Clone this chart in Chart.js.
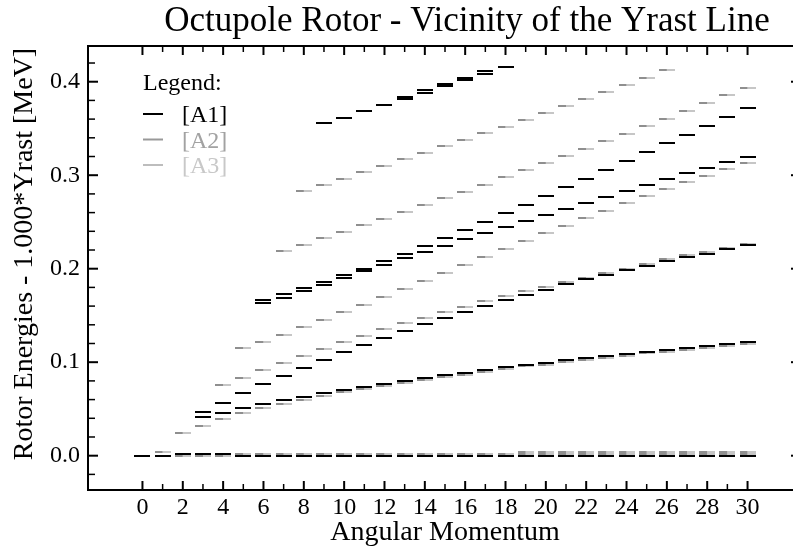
<!DOCTYPE html>
<html>
<head>
<meta charset="utf-8">
<script src="https://cdn.jsdelivr.net/npm/chart.js@4.4.1/dist/chart.umd.min.js"></script>
<style>
html,body{margin:0;padding:0;background:#ffffff;overflow:hidden;}
#wrap{width:793px;height:552px;position:relative;overflow:hidden;}
</style>
</head>
<body>
<div id="wrap"><canvas id="c" width="802" height="552"></canvas></div>
<script>
// ---------- data ----------
const chartTitle = 'Octupole Rotor - Vicinity of the Yrast Line';
const xTitle = 'Angular Momentum';
const yTitle = 'Rotor Energies - 1.000*Yrast [MeV]';
const seriesNames = ['[A1]', '[A2]', '[A3]'];

const xTickValues = [0, 2, 4, 6, 8, 10, 12, 14, 16, 18, 20, 22, 24, 26, 28, 30];
const xTickLabels = ['0', '2', '4', '6', '8', '10', '12', '14', '16', '18', '20', '22', '24', '26', '28', '30'];
const xMinorTicks = [1, 3, 5, 7, 9, 11, 13, 15, 17, 19, 21, 23, 25, 27, 29];
const yTickValues = [0.0, 0.1, 0.2, 0.3, 0.4];
const yTickLabels = ['0.0', '0.1', '0.2', '0.3', '0.4'];
const yMinorTicks = [-0.02, 0.02, 0.04, 0.06, 0.08, 0.12, 0.14, 0.16, 0.18, 0.22, 0.24, 0.26, 0.28, 0.32, 0.34, 0.36, 0.38, 0.42];

// angular momentum of the first state of each band
const a1YrastStart = 0;
const a1YrastValues = [0, 0, 0.002, 0.002, 0.002, 0, 0, 0, 0, 0, 0, 0, 0, 0, 0, 0, 0, 0, 0, 0, 0, 0, 0, 0, 0, 0, 0, 0, 0, 0, 0];
const a1TopStart = 9;
const a1TopValues = [0.3555, 0.3615, 0.3683, 0.3747, 0.3815, 0.3882, 0.3951, 0.4018, 0.4086, 0.416];
const a1TopPartnerStart = 13;
const a1TopPartnerValues = [0.3836, 0.3908, 0.3975, 0.4043, 0.4114];
const a1UpperStart = 6;
const a1UpperValues = [0.166, 0.1726, 0.179, 0.186, 0.193, 0.2, 0.2082, 0.2157, 0.2246, 0.2328, 0.2411, 0.25, 0.2593, 0.2684, 0.2778, 0.2871, 0.2963, 0.3056, 0.3152, 0.3245, 0.3341, 0.3433, 0.3529, 0.3622, 0.3719];
const a1UpperPartnerStart = 6;
const a1UpperPartnerValues = [0.163, 0.1687, 0.176, 0.183, 0.190, 0.1972, 0.2043, 0.2111, 0.2179, 0.2246, 0.2314, 0.2382, 0.2446, 0.2513, 0.2578, 0.2642, 0.2706, 0.277, 0.2831, 0.2895, 0.2959, 0.302, 0.308, 0.3138, 0.3198];
const a1MiddleStart = 3;
const a1MiddleValues = [0.0467, 0.0567, 0.0667, 0.0763, 0.0856, 0.0941, 0.1027, 0.1106, 0.1184, 0.1262, 0.1334, 0.1405, 0.1473, 0.154, 0.1601, 0.1662, 0.1722, 0.1775, 0.1833, 0.1886, 0.1936, 0.1983, 0.2032, 0.2082, 0.2125, 0.2161, 0.2207, 0.225];
const a1LowerStart = 3;
const a1LowerValues = [0.0414, 0.0457, 0.051, 0.0553, 0.0596, 0.0631, 0.0667, 0.0703, 0.0738, 0.077, 0.0799, 0.0834, 0.0863, 0.0888, 0.0917, 0.0945, 0.097, 0.0991, 0.1023, 0.1042, 0.1066, 0.1088, 0.1109, 0.113, 0.1152, 0.1173, 0.1191, 0.1213];

// A2 and A3 coincide (drawn as the two halves of each grey dash)
const a23Band1Start = 8;
const a23Band1Values = [0.2834, 0.2895, 0.2963, 0.3031, 0.3098, 0.317, 0.3241, 0.3309, 0.338, 0.3451, 0.3519, 0.3594, 0.3668, 0.374, 0.3815, 0.389, 0.3968, 0.4043, 0.4122];
const a23Band2Start = 7;
const a23Band2Values = [0.2193, 0.2253, 0.2325, 0.2393, 0.2467, 0.2535, 0.2606, 0.2681, 0.2753, 0.2824, 0.2898, 0.2978, 0.3052, 0.313, 0.3205, 0.3283, 0.3366, 0.3444, 0.3526, 0.3604, 0.3687, 0.3772, 0.3855, 0.3936];
const a23Band3Start = 5;
const a23Band3Values = [0.1152, 0.122, 0.1294, 0.1373, 0.1451, 0.1534, 0.1612, 0.1694, 0.178, 0.1865, 0.1951, 0.2036, 0.2122, 0.2207, 0.2293, 0.2379, 0.246, 0.2542, 0.262, 0.27, 0.2778, 0.2849, 0.2924, 0.2995, 0.3066, 0.3127];
const a23Band4Start = 4;
const a23Band4Values = [0.0753, 0.0831, 0.0913, 0.0991, 0.1066, 0.1144, 0.1216, 0.1284, 0.1352, 0.1416, 0.1476, 0.1537, 0.1594, 0.1651, 0.1705, 0.1758, 0.1804, 0.1854, 0.1904, 0.1954, 0.2, 0.205, 0.21, 0.2146, 0.2179, 0.2225, 0.2268];
const a23Band5Start = 2;
const a23Band5Values = [0.0243, 0.0318, 0.0392, 0.0453, 0.0507, 0.0556, 0.0599, 0.0642, 0.068, 0.0713, 0.0749, 0.0781, 0.081, 0.0845, 0.0866, 0.0898, 0.0924, 0.0959, 0.0973, 0.1002, 0.1023, 0.1048, 0.107, 0.1095, 0.1112, 0.1134, 0.1155, 0.1177, 0.1198];
const a23LowStart = 1;
const a23LowValues = [0.0043, 0, 0, 0, 0.0021, 0.0021, 0.0021, 0.0021, 0.0021, 0.0021, 0.0021, 0.0021, 0.0021, 0.0021, 0.0021, 0.0021, 0.0021, 0.0021, 0.0021, 0.0021, 0.0021, 0.0021, 0.0021, 0.0021, 0.0021, 0.0021, 0.0021, 0.0021, 0.0021, 0.0021];
const a23LowPartnerStart = 19;
const a23LowPartnerValues = [0.0043, 0.0043, 0.0043, 0.0043, 0.0043, 0.0043, 0.0043, 0.0043, 0.0043, 0.0043, 0.0043, 0.0043];

// ---------- styling ----------
const FONT = "'Liberation Serif', 'Times New Roman', serif";
const COL_A1 = '#000000';
const COL_A2 = '#8f8f8f';
const COL_A3 = '#c6c6c6';
const TXT_A2 = '#a2a2a2';
const TXT_A3 = '#c8c8c8';
const X_MIN = -2.7, X_MAX = 32.7;
const Y_MIN = -0.0367, Y_MAX = 0.4382;

function dashImage(color, part) {
  const c = document.createElement('canvas');
  c.width = 16; c.height = 2;
  const g = c.getContext('2d');
  g.fillStyle = color;
  if (part === 'left') g.fillRect(0, 0, 8, 2);
  else if (part === 'right') g.fillRect(8, 0, 8, 2);
  else g.fillRect(0, 0, 16, 2);
  return c;
}
const dashA1 = dashImage(COL_A1, 'full');
const dashA2 = dashImage(COL_A2, 'left');
const dashA3 = dashImage(COL_A3, 'right');

function band(start, values) {
  return values.map((v, i) => ({ x: start + i, y: v }));
}
function ds(label, start, values, img) {
  return {
    label: label, data: band(start, values), showLine: false,
    pointStyle: img, pointRadius: 8, pointHoverRadius: 8, pointBorderWidth: 0,
    borderColor: 'transparent', backgroundColor: 'transparent'
  };
}

const a23Bands = [
  [a23Band1Start, a23Band1Values], [a23Band2Start, a23Band2Values], [a23Band3Start, a23Band3Values],
  [a23Band4Start, a23Band4Values], [a23Band5Start, a23Band5Values], [a23LowStart, a23LowValues],
  [a23LowPartnerStart, a23LowPartnerValues]
];
const a1Bands = [
  [a1YrastStart, a1YrastValues], [a1TopStart, a1TopValues], [a1TopPartnerStart, a1TopPartnerValues],
  [a1UpperStart, a1UpperValues], [a1UpperPartnerStart, a1UpperPartnerValues],
  [a1MiddleStart, a1MiddleValues], [a1LowerStart, a1LowerValues]
];

const datasets = [];
a1Bands.forEach(b => datasets.push(ds(seriesNames[0], b[0], b[1], dashA1)));
a23Bands.forEach(b => datasets.push(ds(seriesNames[1], b[0], b[1], dashA2)));
a23Bands.forEach(b => datasets.push(ds(seriesNames[2], b[0], b[1], dashA3)));

// place the chart title and the y-axis title as in the reference figure
const placementPlugin = {
  id: 'placement',
  afterLayout(chart) {
    const t = chart.titleBlock;
    if (t) { t.left = 141; t.right = 793; }
    const y = chart.scales.y;
    y.top = 46 - 28; // y-axis title centred slightly above the plot centre
  }
};

const framePlugin = {
  id: 'frame',
  afterDatasetsDraw(chart) {
    const { ctx, chartArea: a, scales: { x, y } } = chart;
    ctx.save();
    ctx.strokeStyle = '#000';
    ctx.lineWidth = 2;
    ctx.beginPath();
    ctx.moveTo(a.left, a.top); ctx.lineTo(a.right, a.top);
    ctx.moveTo(a.left, a.top - 1); ctx.lineTo(a.left, a.bottom + 1);
    ctx.moveTo(a.left, a.bottom); ctx.lineTo(a.right, a.bottom);
    ctx.moveTo(a.right, a.top - 1); ctx.lineTo(a.right, a.bottom + 1);
    ctx.stroke();
    const tick = (px, py, dx, dy, w) => {
      ctx.lineWidth = w; ctx.beginPath(); ctx.moveTo(px, py); ctx.lineTo(px + dx, py + dy); ctx.stroke();
    };
    xTickValues.forEach(v => { const p = x.getPixelForValue(v); tick(p, a.bottom, 0, -9, 2); tick(p, a.top, 0, 9, 2); });
    xMinorTicks.forEach(v => { const p = x.getPixelForValue(v); tick(p, a.bottom, 0, -6, 1.5); tick(p, a.top, 0, 6, 1.5); });
    yTickValues.forEach(v => { const p = y.getPixelForValue(v); tick(a.left, p, 10, 0, 2); tick(a.right, p, -11, 0, 2); });
    yMinorTicks.forEach(v => { const p = y.getPixelForValue(v); tick(a.left, p, 7, 0, 1.5); tick(a.right, p, -7, 0, 1.5); });
    ctx.restore();
  }
};

const legendPlugin = {
  id: 'innerLegend',
  afterDraw(chart) {
    const { ctx } = chart;
    ctx.save();
    ctx.font = '24px ' + FONT;
    ctx.textAlign = 'left';
    ctx.textBaseline = 'alphabetic';
    ctx.fillStyle = '#000';
    ctx.fillText('Legend:', 143, 90);
    const items = [[seriesNames[0], COL_A1, COL_A1, 122], [seriesNames[1], '#999999', TXT_A2, 147.5], [seriesNames[2], '#bdbdbd', TXT_A3, 173]];
    items.forEach(it => {
      ctx.fillStyle = it[1];
      ctx.fillRect(143, it[3] - 9, 20, 2);
      ctx.fillStyle = it[2];
      ctx.fillText(it[0], 182, it[3]);
    });
    ctx.restore();
  }
};

new Chart(document.getElementById('c'), {
  type: 'scatter',
  data: { datasets: datasets },
  options: {
    responsive: false,
    devicePixelRatio: 1,
    animation: false,
    events: [],
    layout: { padding: 0, autoPadding: false },
    plugins: {
      legend: { display: false },
      tooltip: { enabled: false },
      title: {
        display: true, text: chartTitle, color: '#000',
        font: { family: FONT, size: 35, weight: 'normal', lineHeight: 1.2 },
        padding: { top: 0.5, bottom: 3.5 }
      }
    },
    scales: {
      x: {
        type: 'linear', position: 'bottom', min: X_MIN, max: X_MAX,
        grid: { display: false, drawTicks: false }, border: { display: false },
        afterBuildTicks: s => { s.ticks = xTickValues.map(v => ({ value: v })); },
        afterFit: s => { s.height = 62; },
        ticks: {
          color: '#000', font: { family: FONT, size: 24 }, padding: 3, maxRotation: 0, autoSkip: false,
          callback: (v, i) => xTickLabels[i]
        },
        title: { display: true, text: xTitle, color: '#000', font: { family: FONT, size: 28 }, padding: { top: 0, bottom: 3 } }
      },
      y: {
        type: 'linear', position: 'left', min: Y_MIN, max: Y_MAX,
        grid: { display: false, drawTicks: false }, border: { display: false },
        afterBuildTicks: s => { s.ticks = yTickValues.map(v => ({ value: v })); },
        afterFit: s => { s.width = 88; },
        ticks: {
          color: '#000', font: { family: FONT, size: 24 }, padding: 8, autoSkip: false,
          callback: (v, i) => yTickLabels[i]
        },
        title: { display: true, text: yTitle, color: '#000', font: { family: FONT, size: 28 }, padding: { top: 8, bottom: 0 } }
      }
    }
  },
  plugins: [placementPlugin, framePlugin, legendPlugin]
});
</script>
</body>
</html>
